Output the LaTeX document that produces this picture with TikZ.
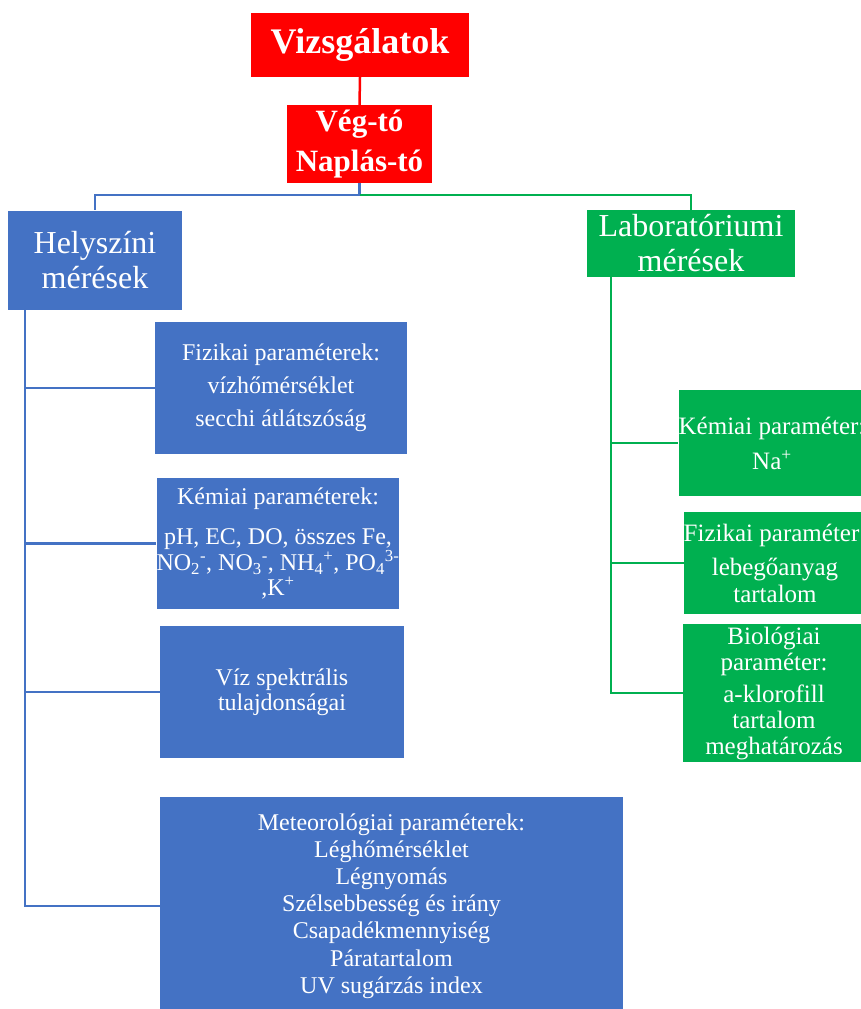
\documentclass[tikz,border=0pt]{standalone}
\usepackage{fontspec}
\setmainfont{Liberation Serif}
\definecolor{vred}{HTML}{FF0000}
\definecolor{vblue}{HTML}{4472C4}
\definecolor{vgreen}{HTML}{00B050}
\tikzset{
  box/.style={inner sep=0pt, align=center, text=white},
  redbox/.style={box, fill=vred},
  bluebox/.style={box, fill=vblue},
  greenbox/.style={box, fill=vgreen},
  redline/.style={draw=vred, line width=2.5pt},
  blueline/.style={draw=vblue, line width=2.5pt},
  greenline/.style={draw=vgreen, line width=2.5pt},
}
\begin{document}
\begin{tikzpicture}[x=1pt,y=-1pt]
\useasboundingbox (0,0) rectangle (861,1009);
\clip (0,0) rectangle (861,1009);
% top
\node[redbox, minimum width=218pt, minimum height=64pt, font=\bfseries\fontsize{36}{40}\selectfont] (viz) at (360,45) {Vizsgálatok};
\node[redbox, minimum width=145pt, minimum height=78pt, font=\bfseries\fontsize{31}{40}\selectfont] (veg) at (359.5,144) {Vég-tó\\Naplás-tó};
% level 2
\node[bluebox, minimum width=174pt, minimum height=99pt, font=\fontsize{32}{35}\selectfont] (hely) at (95,260) {Helyszíni\\mérések};
\node[greenbox, minimum width=208pt, minimum height=67pt, font=\fontsize{32}{35}\selectfont] (lab) at (691,243.5) {Laboratóriumi\\mérések};
% left boxes
\node[bluebox, minimum width=252pt, minimum height=132pt, font=\fontsize{24}{33}\selectfont] (fiz) at (281,388) {Fizikai paraméterek:\\vízhőmérséklet\\secchi átlátszóság};
\node[bluebox, minimum width=240pt, minimum height=131pt, font=\fontsize{24}{25}\selectfont] (kem) at (278,543.5) {Kémiai paraméterek:\\[15pt]pH, EC, DO, összes Fe,\\NO\textsubscript{2}\textsuperscript{-}, NO\textsubscript{3}\textsuperscript{-}, NH\textsubscript{4}\textsuperscript{+}, PO\textsubscript{4}\textsuperscript{3-}\\,K\textsuperscript{+}};
\node[bluebox, minimum width=244pt, minimum height=132pt, font=\fontsize{24}{25}\selectfont] (spek) at (282,692) {Víz spektrális\\tulajdonságai};
\node[bluebox, minimum width=463pt, minimum height=218pt, font=\fontsize{24}{27.2}\selectfont] (met) at (391.5,906) {Meteorológiai paraméterek:\\Léghőmérséklet\\Légnyomás\\Szélsebbesség és irány\\Csapadékmennyiség\\Páratartalom\\UV sugárzás index};
% right boxes
\node[greenbox, minimum width=182pt, minimum height=106pt, font=\fontsize{25}{35}\selectfont] (gkem) at (772,443) {Kémiai paraméter:\\Na\textsuperscript{+}};
\node[greenbox, minimum width=182pt, minimum height=102pt, font=\fontsize{25}{27}\selectfont] (gfiz) at (775,563) {Fizikai paraméter:\\[7pt]lebegőanyag\\tartalom};
\node[greenbox, minimum width=182pt, minimum height=138pt, font=\fontsize{25}{26}\selectfont] (gbio) at (774,693) {Biológiai\\paraméter:\\[6pt]a-klorofill\\tartalom\\meghatározás};
% connectors
\draw[redline] (viz.south) -- (veg.north);
\coordinate (split) at (359.5,195);
\draw[blueline] (veg.south) -- (split) -| (hely.north);
\draw[greenline] (split) -| (lab.north);
\coordinate (bt) at (25,309);
\draw[blueline] (bt) |- (met.west);
\draw[blueline] (bt) |- (fiz.west);
\draw[blueline] (bt) |- (kem.west);
\draw[blueline] (bt) |- (spek.west);
\coordinate (gt) at (611,277);
\draw[greenline] (gt) |- (gbio.west);
\draw[greenline] (gt) |- (gkem.west);
\draw[greenline] (gt) |- (gfiz.west);
\end{tikzpicture}
\end{document}
